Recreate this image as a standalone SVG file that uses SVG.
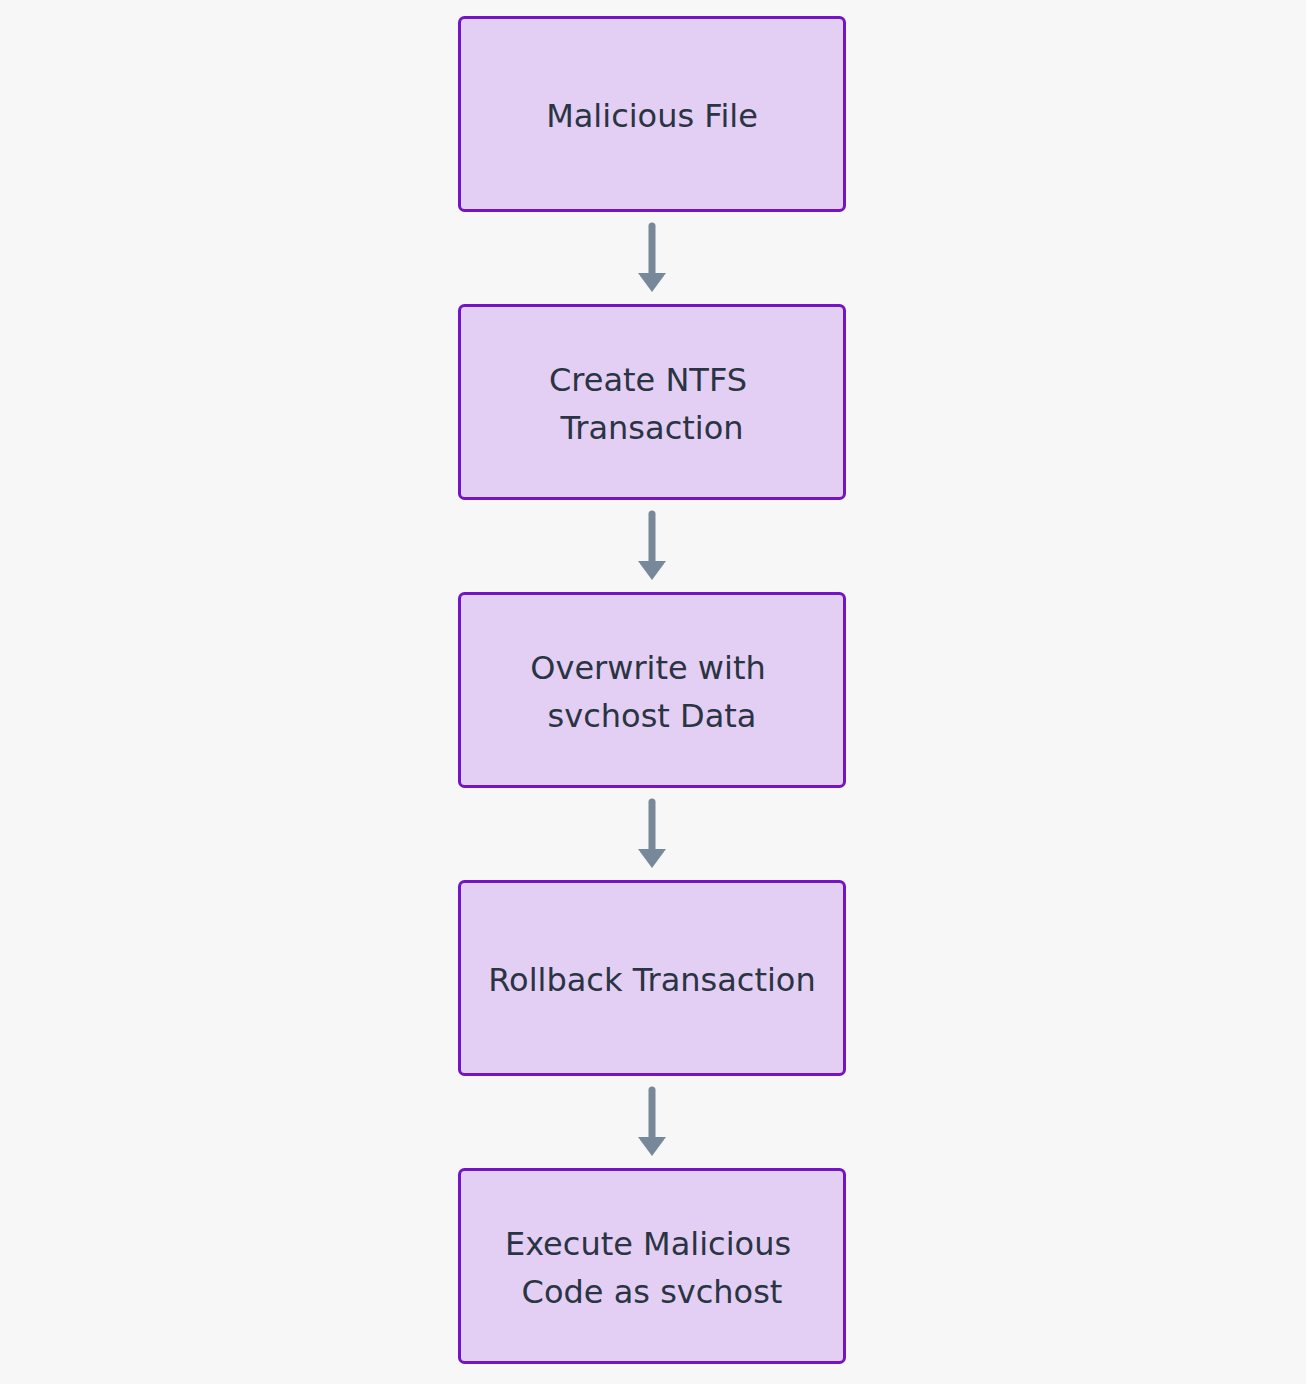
<svg xmlns="http://www.w3.org/2000/svg" width="1306" height="1384" viewBox="0 0 1306 1384">
<style>
.node rect{fill:#e3cff3;stroke:#7314c8;stroke-width:3}
.node text{font-family:"DejaVu Sans","Noto Sans",sans-serif;font-size:32px;fill:#2a3442;text-anchor:middle}
.edge line{stroke:#77889a;stroke-width:7;stroke-linecap:round}
.edge path{fill:#77889a}
</style>
<rect width="1306" height="1384" fill="#f7f7f7"/>
<g id="connectors" class="edge">
<line x1="652" y1="226" x2="652" y2="276"/><path d="M638,273 L666,273 L652,292 Z"/>
<line x1="652" y1="514" x2="652" y2="564"/><path d="M638,561 L666,561 L652,580 Z"/>
<line x1="652" y1="802" x2="652" y2="852"/><path d="M638,849 L666,849 L652,868 Z"/>
<line x1="652" y1="1090" x2="652" y2="1140"/><path d="M638,1137 L666,1137 L652,1156 Z"/>
</g>
<g id="n1" class="node"><rect x="459.5" y="17.5" width="385" height="193" rx="5"/><text x="652" y="127">Malicious File</text></g>
<g id="n2" class="node"><rect x="459.5" y="305.5" width="385" height="193" rx="5"/><text x="648" y="391">Create NTFS</text><text x="652" y="439">Transaction</text></g>
<g id="n3" class="node"><rect x="459.5" y="593.5" width="385" height="193" rx="5"/><text x="648" y="679">Overwrite with</text><text x="652" y="727">svchost Data</text></g>
<g id="n4" class="node"><rect x="459.5" y="881.5" width="385" height="193" rx="5"/><text x="652" y="991">Rollback Transaction</text></g>
<g id="n5" class="node"><rect x="459.5" y="1169.5" width="385" height="193" rx="5"/><text x="648" y="1255">Execute Malicious</text><text x="652" y="1303">Code as svchost</text></g>
</svg>
